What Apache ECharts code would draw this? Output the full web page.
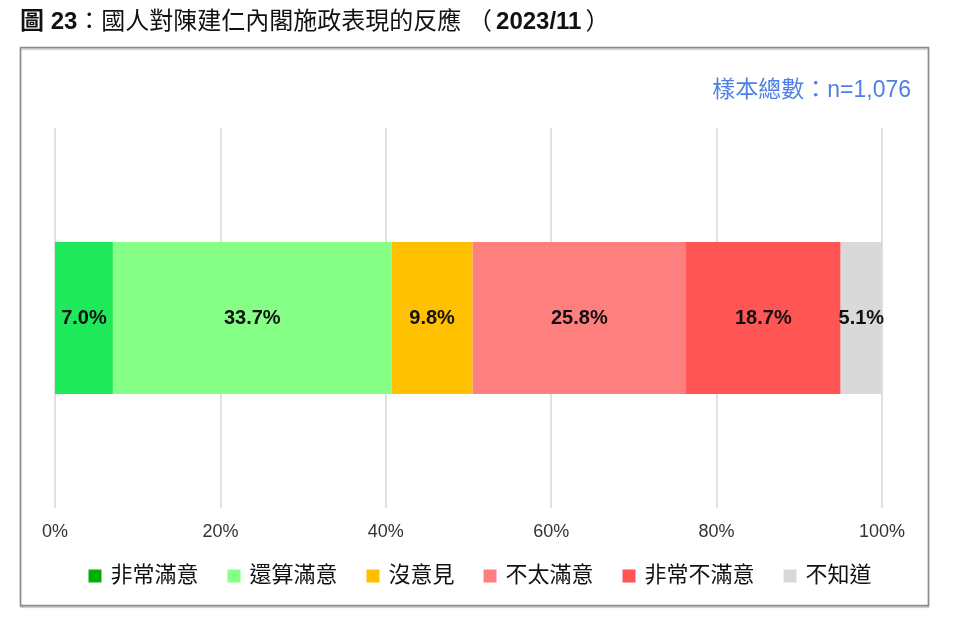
<!DOCTYPE html>
<html><head><meta charset="utf-8">
<script src="https://cdn.jsdelivr.net/npm/echarts@6/dist/echarts.min.js"></script>
<style>html,body{margin:0;padding:0;background:#fff}#c{width:960px;height:630px}</style>
</head><body><div id="c"></div>
<script>
const categories = ['反應'];
const seriesNames = ['非常滿意','還算滿意','沒意見','不太滿意','非常不滿意','不知道'];
const values = [7.0, 33.7, 9.8, 25.8, 18.7, 5.1];
const barColors = ['#1ee95a','#86ff86','#ffc000','#ff7f7f','#ff5555','#d9d9d9'];
const legendColors = ['#00b000','#86ff86','#ffc000','#ff7f7f','#ff5555','#d9d9d9'];
const xTicks = [0,20,40,60,80,100];

const chart = echarts.init(document.getElementById('c'));
const font = 'Liberation Sans, "Noto Sans CJK TC", sans-serif';
chart.setOption({
  animation:false,
  textStyle:{fontFamily:font},
  graphic:[
    {type:'rect',shape:{x:20.5,y:47.5,width:908,height:558},style:{fill:'#fff',stroke:'#8c8c8c',lineWidth:1.5,shadowColor:'rgba(0,0,0,0.25)',shadowOffsetY:1.5,shadowBlur:1},z:-10},
    {type:'text',left:20,top:10,style:{
      text:'{b|圖 23}：國人對陳建仁內閣施政表現的反應 （{g|}{b|2023/11}{g|}）',
      rich:{b:{fontWeight:'bold',fontSize:24,fontFamily:font,fill:'#111'},g:{width:4}},
      fontSize:24,fontFamily:font,fill:'#111'}},
    {type:'text',right:49,top:79,style:{text:'樣本總數：n=1,076',fontSize:23,fontFamily:font,fill:'#4f7fe6'}}
  ],
  legend:{
    bottom:38,left:'center',itemWidth:13,itemHeight:13,itemGap:29,icon:'rect',
    textStyle:{fontSize:22,color:'#111',fontFamily:font,padding:[0,0,0,4]},
    data:seriesNames.map((n,i)=>({name:n,itemStyle:{color:legendColors[i]}}))
  },
  grid:{left:55,right:78,top:128,bottom:122},
  xAxis:{type:'value',min:0,max:100,interval:20,
    axisLabel:{formatter:v=>xTicks.includes(v)?v+'%':'',fontSize:18,color:'#333',margin:15},
    splitLine:{lineStyle:{color:'#d6d6d6',width:1.5}},
    axisLine:{show:false},axisTick:{show:false}},
  yAxis:{type:'category',data:categories,show:false},
  series:seriesNames.map((n,i)=>({
    name:n,type:'bar',stack:'total',barWidth:152,
    itemStyle:{color:barColors[i]},
    label:{show:true,position:'inside',formatter:p=>p.value.toFixed(1)+'%',
      fontSize:20,fontWeight:'bold',color:'#111',fontFamily:font},
    data:[values[i]]
  }))
});
</script></body></html>
